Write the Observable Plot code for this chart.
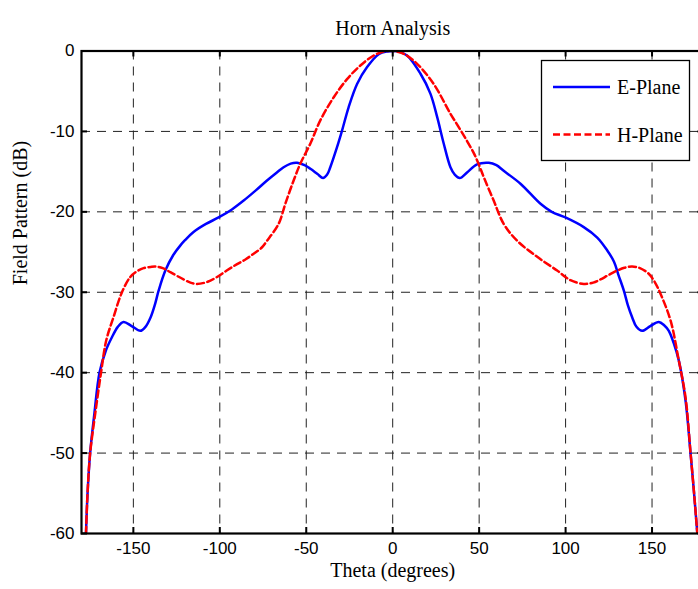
<!DOCTYPE html>
<html><head><meta charset="utf-8">
<script src="https://cdn.jsdelivr.net/npm/d3@7"></script>
<script src="https://cdn.jsdelivr.net/npm/@observablehq/plot@0.6"></script>
<style>
html,body{margin:0;padding:0;background:#fff;overflow:hidden}
#chart{width:698px;height:589px;overflow:hidden;position:relative}
#chart svg{max-width:none !important;height:589px !important}
</style></head><body><div id="chart"></div>
<script>
const titleText = "Horn Analysis";
const xLabel = "Theta (degrees)";
const yLabel = "Field Pattern (dB)";
const xTicks = [-150, -100, -50, 0, 50, 100, 150];
const yTicks = [0, -10, -20, -30, -40, -50, -60];
const seriesNames = ["E-Plane", "H-Plane"];

const eTheta = [-177.4, -176.5, -175, -172.5, -169.6, -166, -162.4, -159, -155.7, -151, -146, -143, -140, -137.5, -135.4, -131.5, -127, -122.9, -120, -115.2, -108, -100.7, -93, -86.2, -79, -72.7, -67, -63.1, -59, -55.3, -51, -47.6, -43.5, -40.3, -38, -36.1, -32.2, -29.3, -25.5, -20.6, -14.8, -8.1, -3, 0, 3, 8.3, 16, 21.8, 25.7, 29.5, 33.4, 36, 38.8, 43, 48.8, 55.6, 60, 64.2, 73.9, 85.5, 92, 99.9, 110.5, 118.3, 124.1, 128, 130.5, 133.7, 136, 138.5, 141, 144.3, 149, 153.9, 157, 159.7, 162.5, 165.5, 169.4, 172.3, 174.2, 176.2];
const eDb = [-60, -55, -50, -45, -40, -37.3, -35.6, -34.3, -33.7, -34.2, -34.8, -34.3, -33.1, -31.5, -29.8, -27.3, -25.4, -24.2, -23.5, -22.5, -21.5, -20.7, -19.7, -18.6, -17.3, -16.1, -15.1, -14.45, -14.0, -13.9, -14.2, -14.65, -15.3, -15.8, -15.4, -14.45, -11.96, -9.9, -7.0, -4.1, -2.0, -0.4, -0.05, 0, -0.05, -0.56, -2.8, -5.3, -8.2, -11.5, -14.45, -15.4, -15.8, -15.1, -14.1, -13.9, -14.2, -14.9, -16.5, -19.0, -20.0, -20.7, -21.9, -23.2, -24.8, -26.2, -27.8, -29.8, -31.6, -33.1, -34.3, -34.8, -34.2, -33.7, -34.1, -34.8, -36.3, -38.5, -43.5, -50.1, -54.7, -60];

const hTheta = [-177.4, -176.5, -175, -172, -168.7, -165.7, -161.5, -156.6, -151.8, -148, -144.1, -140, -137.3, -133, -128.6, -121, -117, -113.2, -107, -101.6, -96, -90, -85, -80.4, -76, -72.7, -66, -62.1, -57.3, -53.4, -47.6, -41.8, -34.1, -26.4, -18.7, -11, -5.2, 0, 6.4, 14.1, 23.7, 33.4, 38, 43, 46.9, 49.8, 52.7, 58.4, 64.2, 72, 83.6, 95.1, 102.8, 110.5, 116, 120.2, 124.5, 129.9, 134, 138.5, 143, 148.1, 151.5, 154.9, 160.7, 165.5, 169.4, 172.3, 174.2, 176.2];
const hDb = [-60, -55, -50, -45, -40, -36, -33.1, -30, -28.1, -27.4, -27.0, -26.85, -26.8, -27.0, -27.5, -28.4, -28.8, -28.96, -28.7, -28.1, -27.3, -26.5, -25.9, -25.2, -24.5, -23.6, -21.5, -19.0, -16.1, -14.0, -11.5, -8.6, -5.75, -3.5, -1.8, -0.56, -0.06, 0, -0.35, -1.6, -4.1, -7.8, -9.4, -11.2, -12.7, -14.1, -15.7, -18.6, -21.5, -23.6, -25.6, -27.3, -28.5, -28.96, -28.8, -28.4, -27.9, -27.3, -26.95, -26.8, -27.0, -27.7, -28.7, -30.2, -33.5, -38.5, -43.1, -50, -54.7, -60];

const seriesColors = ["#0000ff", "#ff0000"];
const seriesDash = [null, "7,3.5"];

const W = 704, H = 589;
const mL = 81, mT = 50.5, mB = 56, mR = 0.6;
const fw = W - mL - mR, fh = H - mT - mB;
const tickLen = 6;
const serif = "'Liberation Serif', 'Times New Roman', serif";
const sans = "'Liberation Sans', Arial, sans-serif";

const eData = eTheta.map((t, i) => ({theta: t, db: eDb[i]}));
const hData = hTheta.map((t, i) => ({theta: t, db: hDb[i]}));
const gridStyle = {stroke: "#222", strokeOpacity: 1, strokeWidth: 1, strokeDasharray: "9,7"};
const fmt = d => String(d);

const plot = Plot.plot({
  width: W, height: H,
  marginLeft: mL, marginRight: mR, marginTop: mT, marginBottom: mB,
  style: {fontFamily: sans, fontSize: "17px", color: "#000", background: "#fff", overflow: "visible", maxWidth: "none"},
  x: {domain: [-180, 180]},
  y: {domain: [-60, 0]},
  marks: [
    Plot.gridX(xTicks, gridStyle),
    Plot.gridY(yTicks, gridStyle),
    Plot.line(eData, {x: "theta", y: "db", stroke: seriesColors[0], strokeWidth: 2.5, curve: "catmull-rom", clip: true}),
    Plot.line(hData, {x: "theta", y: "db", stroke: seriesColors[1], strokeWidth: 2.5, strokeDasharray: seriesDash[1], curve: "catmull-rom", clip: true}),
    Plot.tickX(xTicks, {x: d => d, stroke: "#000", strokeWidth: 2, insetTop: fh - tickLen}),
    Plot.tickX(xTicks, {x: d => d, stroke: "#000", strokeWidth: 2, insetBottom: fh - tickLen}),
    Plot.tickY(yTicks, {y: d => d, stroke: "#000", strokeWidth: 2, insetRight: fw - tickLen}),
    Plot.tickY(yTicks, {y: d => d, stroke: "#000", strokeWidth: 2, insetLeft: fw - tickLen}),
    Plot.frame({stroke: "#000", strokeWidth: 2.2}),
    Plot.axisX(xTicks, {tickSize: 0, tickPadding: 8, label: null, tickFormat: fmt, fontSize: 17}),
    Plot.axisY(yTicks, {tickSize: 0, tickPadding: 7, label: null, tickFormat: fmt, fontSize: 17}),
    Plot.text([titleText], {frameAnchor: "top", dy: -30, fontFamily: serif, fontSize: 20, fill: "#000"}),
    Plot.text([xLabel], {frameAnchor: "bottom", dy: 43, fontFamily: serif, fontSize: 20, fill: "#000"}),
    Plot.text([yLabel], {frameAnchor: "left", dx: -61, dy: -7, rotate: -90, fontFamily: serif, fontSize: 20, fill: "#000"})
  ]
});
plot.style.maxWidth = "none";
plot.style.height = H + "px";

// Legend box (inside the plot, top right)
const svg = d3.select(plot);
const lg = svg.append("g").attr("class", "legend").attr("text-anchor", "start");
lg.append("rect").attr("x", 541.5).attr("y", 60.5).attr("width", 148).attr("height", 100)
  .attr("fill", "#fff").attr("stroke", "#000").attr("stroke-width", 1.3);
seriesNames.forEach((name, i) => {
  const yy = 87 + i * 47.5;
  lg.append("line").attr("x1", 553).attr("x2", 610).attr("y1", yy).attr("y2", yy)
    .attr("stroke", seriesColors[i]).attr("stroke-width", 2.5)
    .attr("stroke-dasharray", seriesDash[i]);
  lg.append("text").attr("x", 617).attr("y", yy).attr("dy", "0.35em").attr("text-anchor", "start")
    .attr("font-family", serif).attr("font-size", 20).attr("fill", "#000").text(name);
});

document.getElementById("chart").appendChild(plot);
</script></body></html>
